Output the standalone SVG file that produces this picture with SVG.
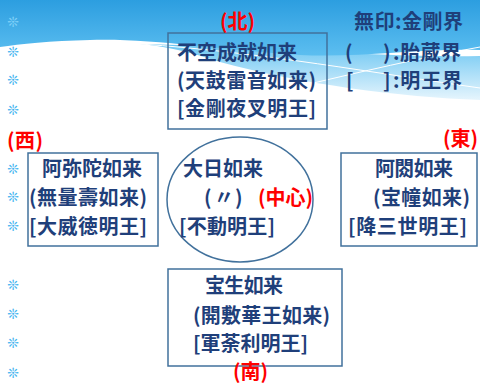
<svg xmlns="http://www.w3.org/2000/svg" width="480" height="383" viewBox="0 0 480 383">
<defs>
<linearGradient id="sky" x1="0" y1="0" x2="0" y2="1">
<stop offset="0" stop-color="#2C9EE0"/>
<stop offset="1" stop-color="#5CBEF0"/>
</linearGradient>
<linearGradient id="band" x1="0" y1="0" x2="0" y2="1">
<stop offset="0" stop-color="#6CC6F2"/>
<stop offset="1" stop-color="#E6F5FD"/>
</linearGradient>
<style>
.t{font-family:"Noto Sans CJK JP","Noto Sans CJK SC",sans-serif;font-size:20px;font-weight:bold;fill:#1F3F7A}
.r{fill:#FF0000}
.box{fill:none;stroke:#41719C;stroke-width:1.5}
.sf{font-family:"DejaVu Sans",sans-serif;font-size:14px;fill:#45B5F0;text-anchor:middle}
</style>
</defs>
<g id="background">
<rect x="0" y="0" width="480" height="383" fill="#FFFFFF"/>
<path d="M140,44 C250,46 380,58 480,56 V100 C400,97 300,84 220,62 C190,52 165,46 140,44 Z" fill="url(#band)"/>
<path d="M0,0 H480 V50 C420,48 360,58 300,55 C220,50 150,38 90,40 C50,41 20,44 0,47 Z" fill="url(#sky)"/>
<path d="M140,44 C260,52 380,74 480,88" fill="none" stroke="#FFFFFF" stroke-width="1"/>
<path d="M305,85 C360,72 420,58 480,47" fill="none" stroke="#FFFFFF" stroke-width="1"/>
</g>
<g id="bullets">
<text class="sf" x="13" y="27" style="fill:#7FD0F8">❊</text>
<text class="sf" x="13" y="57">❊</text>
<text class="sf" x="13" y="85">❊</text>
<text class="sf" x="13" y="115">❊</text>
<text class="sf" x="13" y="174">❊</text>
<text class="sf" x="13" y="202">❊</text>
<text class="sf" x="13" y="231">❊</text>
<text class="sf" x="13" y="290">❊</text>
<text class="sf" x="13" y="319">❊</text>
<text class="sf" x="13" y="348">❊</text>
<text class="sf" x="13" y="378">❊</text>
</g>
<g id="connectors"></g>
<g id="legend">
<text class="t" x="354" y="28.5" textLength="109">無印:金剛界</text>
<text class="t" x="345" y="59.5">(</text>
<text class="t" x="383" y="59.5">)</text>
<text class="t" x="393" y="59.5" textLength="68">:胎蔵界</text>
<text class="t" x="346" y="87.5">[</text>
<text class="t" x="383" y="87.5">]</text>
<text class="t" x="393" y="87.5" textLength="69">:明王界</text>
</g>
<g id="north">
<rect class="box" x="168" y="33" width="159" height="96"/>
<text class="t r" x="220" y="28.5" textLength="35">(北)</text>
<text class="t" x="177" y="59.5" textLength="120">不空成就如来</text>
<text class="t" x="177" y="87.5" textLength="139">(天鼓雷音如来)</text>
<text class="t" x="177" y="115.5" textLength="139">[金剛夜叉明王]</text>
</g>
<g id="west">
<rect class="box" x="28" y="153" width="130" height="93"/>
<text class="t r" x="7" y="147.5" textLength="36">(西)</text>
<text class="t" x="42" y="175.5" textLength="100">阿弥陀如来</text>
<text class="t" x="29" y="204.5" textLength="118">(無量壽如来)</text>
<text class="t" x="29" y="233.5" textLength="118">[大威徳明王]</text>
</g>
<g id="center">
<ellipse class="box" cx="240" cy="199.5" rx="73" ry="62.5"/>
<text class="t" x="183" y="175.5" textLength="80">大日如来</text>
<text class="t" x="204" y="204.5">(</text>
<text class="t" x="214" y="204.5">〃</text>
<text class="t" x="235" y="204.5">)</text>
<text class="t r" x="258" y="204.5" textLength="55">(中心)</text>
<text class="t" x="179" y="233.5" textLength="96">[不動明王]</text>
</g>
<g id="east">
<rect class="box" x="341" y="153" width="136" height="93"/>
<text class="t r" x="443" y="145.5" textLength="35">(東)</text>
<text class="t" x="375" y="175.5" textLength="78">阿閦如来</text>
<text class="t" x="373" y="204.5" textLength="97">(宝幢如来)</text>
<text class="t" x="348" y="233.5" textLength="119">[降三世明王]</text>
</g>
<g id="south">
<rect class="box" x="168" y="269" width="174" height="97"/>
<text class="t" x="205" y="292.5" textLength="78">宝生如来</text>
<text class="t" x="193" y="322.5" textLength="137">(開敷華王如来)</text>
<text class="t" x="193" y="350.5" textLength="115">[軍荼利明王]</text>
<text class="t r" x="233" y="378.5" textLength="35">(南)</text>
</g>
</svg>
